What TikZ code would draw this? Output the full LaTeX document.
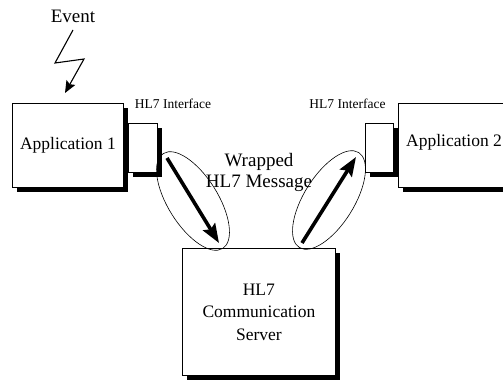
\documentclass[tikz,border=0pt]{standalone}
\usepackage{fontspec}
\setmainfont{Liberation Serif}
\usetikzlibrary{shapes.geometric,arrows.meta,shadows}
\tikzset{
  shadowbox/.style={draw=black, line width=0.8pt, fill=white, inner sep=0pt,
    anchor=north west,
    drop shadow={shadow xshift=5pt, shadow yshift=-5pt, fill=black, opacity=1}},
  maintext/.style={font=\fontsize{17.5}{22.5}\selectfont},
  bigtext/.style={font=\fontsize{19}{21}\selectfont},
  smalltext/.style={font=\fontsize{13.5}{15}\selectfont},
  wrapper/.style={draw=black, line width=0.6pt, ellipse, inner sep=0pt,
    minimum width=112pt, minimum height=50pt},
  flow/.style={line width=3.6pt, -{Stealth[length=19pt,width=14pt,inset=3pt]}},
  bolt/.style={line width=1.1pt, line join=miter, -{Stealth[length=12pt,width=10pt,inset=2pt]}}
}
\begin{document}
\begin{tikzpicture}[x=1pt, y=-1pt]
\useasboundingbox (0,0) rectangle (503,390);

% applications with their HL7 interfaces
\node[shadowbox, minimum width=111pt, minimum height=84pt, maintext] (app1) at (12,103) {Application 1};
\node[shadowbox, minimum width=29pt, minimum height=49pt] (if1) at (128,123) {};
\node[shadowbox, minimum width=28pt, minimum height=49pt] (if2) at (365,123) {};
\node[shadowbox, minimum width=122pt, minimum height=84pt] (app2) at (398,103) {};
\node[maintext, anchor=west, inner sep=0pt] (app2label) at (406,142) {Application 2};

\node[smalltext] (iflabel1) at (173,104) {HL7 Interface};
\node[smalltext] (iflabel2) at (347.5,104) {HL7 Interface};

% communication server
\node[shadowbox, minimum width=153pt, minimum height=127pt, maintext, align=center] (server) at (182,248)
  {HL7\\Communication\\Server};

% wrapped message envelopes
\node[wrapper, rotate=-58] (wrapL) at (193,201) {};
\node[wrapper, rotate=58] (wrapR) at (329,200) {};
\node[bigtext, align=center] (wrapped) at (259,172.5) {Wrapped\\HL7 Message};

% message flow
\coordinate (m1s) at (167,158);
\coordinate (m1e) at (219,243);
\coordinate (m2s) at (302,243);
\coordinate (m2e) at (356,157);
\draw[flow] (m1s) -- (m1e);
\draw[flow] (m2s) -- (m2e);

% triggering event
\node[bigtext] (event) at (73,16) {Event};
\coordinate (b0) at (73,30);
\coordinate (b1) at (55,63);
\coordinate (b2) at (84,59);
\coordinate (b3) at (65,93);
\draw[bolt] (b0) -- (b1) -- (b2) -- (b3);
\end{tikzpicture}
\end{document}
